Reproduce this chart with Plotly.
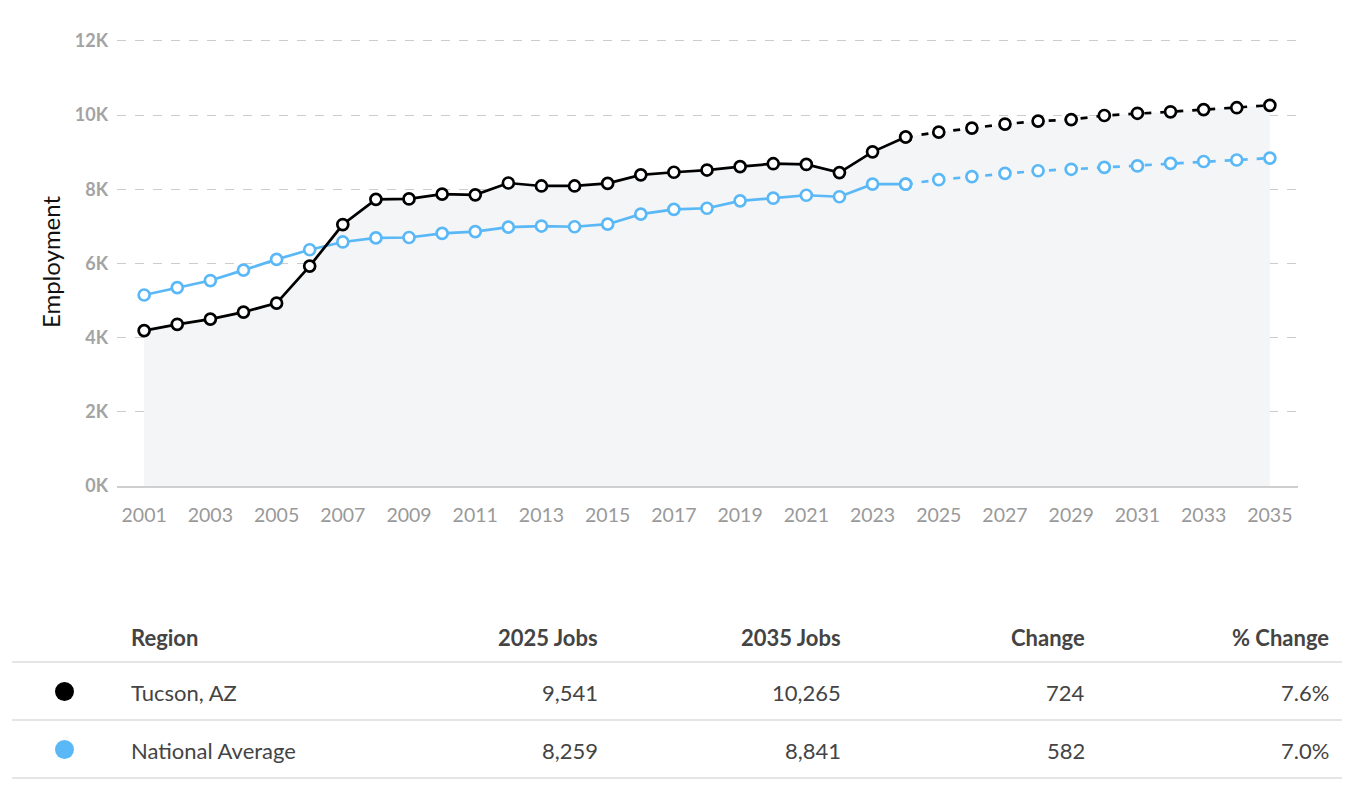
import plotly.graph_objects as go

# ---------------- data ----------------
years = list(range(2001, 2036))
tucson = [4190, 4360, 4500, 4690, 4930, 5930, 7050, 7730, 7740, 7870, 7850, 8170,
          8090, 8090, 8160, 8390, 8460, 8520, 8610, 8690, 8670, 8450, 9010, 9410,
          9541, 9650, 9760, 9840, 9880, 9990, 10050, 10090, 10150, 10200, 10265]
national = [5150, 5350, 5540, 5820, 6110, 6370, 6580, 6690, 6700, 6810, 6860, 6980,
            7010, 6990, 7060, 7330, 7460, 7490, 7690, 7760, 7840, 7800, 8140, 8140,
            8259, 8340, 8430, 8500, 8540, 8590, 8630, 8700, 8750, 8790, 8841]
last_actual_year = 2024
regions = ["Tucson, AZ", "National Average"]
region_series = [tucson, national]
region_colors = ["#000000", "#5ab8f7"]
y_ticks = [0, 2000, 4000, 6000, 8000, 10000, 12000]
y_tick_labels = ["0K", "2K", "4K", "6K", "8K", "10K", "12K"]
x_ticks = list(range(2001, 2036, 2))
table_headers = ["Region", "2025 Jobs", "2035 Jobs", "Change", "% Change"]

FONT = "Lato"
W, H = 1365, 800
OFF = 8  # page body margin
L, R, T, B = 109, 75, 30, 322
PW, PH = W - L - R, H - T - B


def px_x(px):
    return (px - OFF - L) / PW


def px_y(py):
    return (H - B - (py - OFF)) / PH


fig = go.Figure()

# shaded area under Tucson
fig.add_trace(go.Scatter(x=years, y=tucson, mode="lines", line=dict(width=0, color="rgba(0,0,0,0)"),
                         fill="tozeroy", fillcolor="#f3f5f7", hoverinfo="skip", showlegend=False))

split = years.index(last_actual_year)
for name, ser, col in zip(regions[::-1], region_series[::-1], region_colors[::-1]):
    marker = dict(size=11, color="white", line=dict(color=col, width=2.7))
    fig.add_trace(go.Scatter(x=years[:split + 1], y=ser[:split + 1], mode="lines+markers",
                             line=dict(color=col, width=2.7), marker=marker, name=name,
                             showlegend=False))
    fig.add_trace(go.Scatter(x=years[split:], y=ser[split:], mode="lines+markers",
                             line=dict(color=col, width=2.7, dash="7px,9px"), marker=marker,
                             name=name + " (projected)", showlegend=False))

fig.update_layout(
    width=W, height=H,
    margin=dict(l=L, r=R, t=T, b=B, autoexpand=False),
    paper_bgcolor="white", plot_bgcolor="white",
    font=dict(family=FONT, color="#444"),
    xaxis=dict(range=[2000.18, 2035.85], tickmode="array", tickvals=x_ticks,
               ticktext=[str(v) for v in x_ticks], showgrid=False, zeroline=False,
               showline=True, linecolor="#cfcfcf", linewidth=1.5, ticks="",
               ticklabelstandoff=11, tickfont=dict(family=FONT, size=19.5, color="#999999")),
    yaxis=dict(range=[0, 12080], tickmode="array", tickvals=y_ticks,
               ticktext=["<b>" + t + "</b>" for t in y_tick_labels],
               showgrid=True, gridcolor="#cccccc", griddash="dash", gridwidth=1,
               zeroline=False, showline=False, ticks="", ticklabelstandoff=8,
               tickfont=dict(family=FONT, size=18, color="#a3a3a3"),
               title=dict(text="Employment", standoff=7,
                          font=dict(family=FONT, size=24, color="#111"))),
)

# ---------------- table ----------------
col_x = [129, 600, 843, 1087, 1331]
col_anchor = ["left", "right", "right", "right", "right"]
header_y = 637
row_y = [692, 750]
line_y = [662, 720, 778]

for hx, anc, txt in zip(col_x, col_anchor, table_headers):
    fig.add_annotation(x=px_x(hx), y=px_y(header_y), xref="paper", yref="paper",
                       text="<b>" + txt + "</b>", showarrow=False, xanchor=anc, yanchor="middle",
                       font=dict(family=FONT, size=22, color="#444"))

for ly in line_y:
    fig.add_shape(type="line", xref="paper", yref="paper", x0=px_x(12), x1=px_x(1342),
                  y0=px_y(ly), y1=px_y(ly), line=dict(color="#dddddd", width=1.5))

for ry, name, ser, col in zip(row_y, regions, region_series, region_colors):
    v25 = ser[years.index(2025)]
    v35 = ser[years.index(2035)]
    chg = v35 - v25
    pct = chg / v25 * 100
    vals = [name, f"{v25:,}", f"{v35:,}", f"{chg:,}", f"{pct:.1f}%"]
    for hx, anc, txt in zip(col_x, col_anchor, vals):
        fig.add_annotation(x=px_x(hx), y=px_y(ry), xref="paper", yref="paper", text=txt,
                           showarrow=False, xanchor=anc, yanchor="middle",
                           font=dict(family=FONT, size=22, color="#444"))
    fig.add_shape(type="circle", xref="paper", yref="paper",
                  x0=px_x(55), x1=px_x(74), y0=px_y(ry - 10), y1=px_y(ry + 9),
                  fillcolor=col, line=dict(width=0))

fig.write_html("out.html")
